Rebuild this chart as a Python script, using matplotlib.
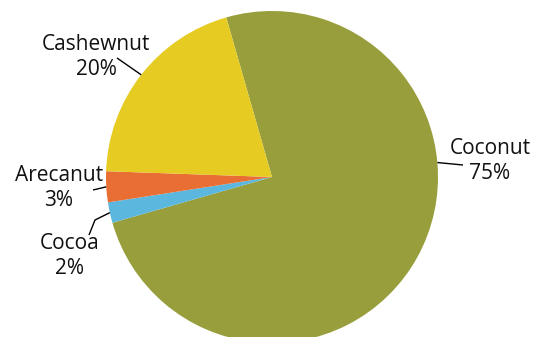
import numpy as np
import matplotlib
matplotlib.use("Agg")
import matplotlib.pyplot as plt

crops = ["Coconut", "Cocoa", "Arecanut", "Cashewnut"]
shares = [75, 2, 3, 20]
colors = ["#979E3B", "#5BB7DE", "#E86E34", "#E5CB22"]

W, H = 542, 337
plt.rcParams["font.family"] = ["Open Sans", "DejaVu Sans"]

fig = plt.figure(figsize=(W / 100, H / 100), dpi=100)
ax = fig.add_axes([0, 0, 1, 1])

cx, cy, r = 272, H - 177, 166
start = 106
wedges, _ = ax.pie(shares, colors=colors, startangle=start, counterclock=False,
                   center=(cx, cy), radius=r, frame=True,
                   wedgeprops=dict(linewidth=0))

# label placement in pixel coords (top-left origin): text centre, leader path
label_pos = {
    "Coconut": (490, 161),
    "Cocoa": (70, 256),
    "Arecanut": (59, 188),
    "Cashewnut": (96, 57),
}
leader = {
    "Coconut": [(463, 165)],
    "Cocoa": [(89, 235), (95, 220)],
    "Arecanut": [(93, 190)],
    "Cashewnut": [(117, 58)],
}
anchor_angle = {"Coconut": 5}

total = sum(shares)
for w, name, val in zip(wedges, crops, shares):
    ang = anchor_angle.get(name, (w.theta1 + w.theta2) / 2)
    ax_, ay_ = cx + r * np.cos(np.radians(ang)), cy + r * np.sin(np.radians(ang))
    pts = [(x, H - y) for x, y in leader[name]] + [(ax_, ay_)]
    xs, ys = zip(*pts)
    ax.plot(xs, ys, color="black", lw=1.0, solid_capstyle="butt")
    tx, ty = label_pos[name]
    ax.text(tx, H - ty, f"{name}\n{val / total * 100:.0f}%", ha="center", va="center",
            fontsize=15, linespacing=1.3, color="#111111")

ax.set_xlim(0, W)
ax.set_ylim(0, H)
ax.set_aspect("equal")
ax.axis("off")
fig.savefig("out.png", dpi=100)
